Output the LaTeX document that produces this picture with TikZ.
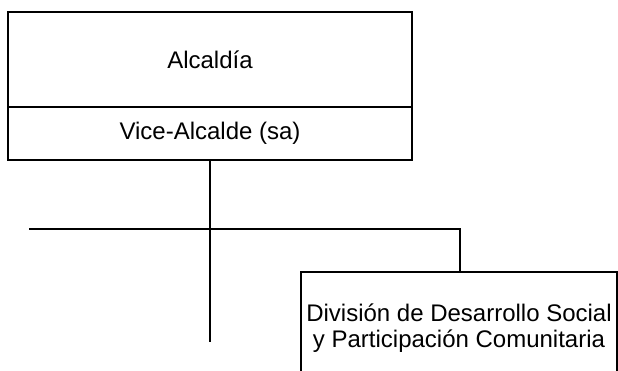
\documentclass[tikz,border=0pt]{standalone}
\usepackage{fontspec}
\setmainfont{Liberation Sans}
\begin{document}
\begin{tikzpicture}[x=1pt,y=-1pt,
  box/.style={draw,line width=1.3pt,rectangle,inner sep=0pt,align=center,
    font=\fontsize{24}{26.5}\selectfont},
  conn/.style={line width=1.3pt}]
\useasboundingbox (0,0) rectangle (618,370);
\clip (0,0) rectangle (618,370);
\node[box,minimum width=404pt,minimum height=95pt] (alc) at (210,59.5) {Alcaldía};
\node[box,minimum width=404pt,minimum height=53pt] (vice) at (210,133.5) {Vice-Alcalde (sa)};
\node[box,minimum width=316pt,minimum height=112pt] (div) at (459,328)
  {División de Desarrollo Social\\y Participación Comunitaria};
\coordinate (vend) at (210,342);
\coordinate (hl) at (29,229);
\coordinate (hr) at (460,229);
\draw[conn] (vice.south) -- (vend);
\draw[conn] (hl) -- (hr) -- (hr |- div.north);
\end{tikzpicture}
\end{document}
